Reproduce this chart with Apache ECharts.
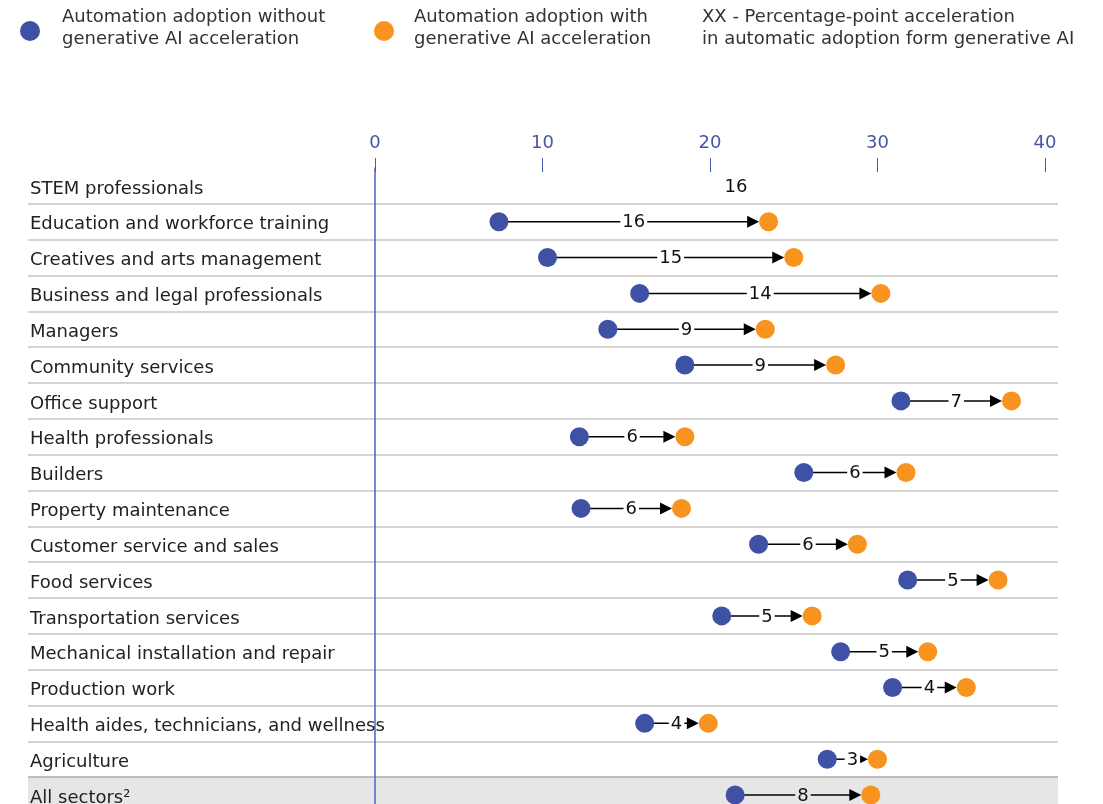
<!DOCTYPE html>
<html>
<head>
<meta charset="utf-8">
<script src="https://cdn.jsdelivr.net/npm/echarts@6/dist/echarts.min.js"></script>
<style>
  html, body { margin: 0; padding: 0; background: #fff; overflow: hidden; }
  #main { width: 1103px; height: 840px; }
</style>
</head>
<body>
<div id="main"></div>
<script>
var categories = [
    'STEM professionals',
    'Education and workforce training',
    'Creatives and arts management',
    'Business and legal professionals',
    'Managers',
    'Community services',
    'Office support',
    'Health professionals',
    'Builders',
    'Property maintenance',
    'Customer service and sales',
    'Food services',
    'Transportation services',
    'Mechanical installation and repair',
    'Production work',
    'Health aides, technicians, and wellness',
    'Agriculture',
    'All sectors\u00b2'
];
// automation adoption, %
var withoutGenAI = [13.5, 7.4, 10.3, 15.8, 13.9, 18.5, 31.4, 12.2, 25.6, 12.3, 22.9, 31.8, 20.7, 27.8, 30.9, 16.1, 27.0, 21.5];
var withGenAI = [29.6, 23.5, 25.0, 30.2, 23.3, 27.5, 38.0, 18.5, 31.7, 18.3, 28.8, 37.2, 26.1, 33.0, 35.3, 19.9, 30.0, 29.6];
var acceleration = [16, 16, 15, 14, 9, 9, 7, 6, 6, 6, 6, 5, 5, 5, 4, 4, 3, 8];
// the source shows only the label for the first row
var marksShown = [false, true, true, true, true, true, true, true, true, true, true, true, true, true, true, true, true, true];
var xTicks = [0, 10, 20, 30, 40];

var BLUE = '#3f51a5';
var ORANGE = '#f7931e';
var FONT = '"DejaVu Sans", sans-serif';

var rowTop = 168;
var rowH = 35.83;

var bandColors = categories.map(function (c, i) {
    return i === categories.length - 1 ? '#e6e6e6' : 'rgba(0,0,0,0)';
});
var lineColors = [];
for (var i = 0; i <= categories.length; i++) {
    lineColors.push(i === 0 ? 'rgba(0,0,0,0)' : (i === categories.length - 1 ? '#ababab' : '#c6c6c6'));
}

var arrowData = categories.map(function (c, i) {
    return [withoutGenAI[i], withGenAI[i], i, acceleration[i], marksShown[i] ? 1 : 0];
});
var blueData = [], orangeData = [];
categories.forEach(function (c, i) {
    if (marksShown[i]) {
        blueData.push([withoutGenAI[i], i]);
        orangeData.push([withGenAI[i], i]);
    }
});

var renderArrow = function (params, api) {
    var idx = api.value(2);
    var p0 = api.coord([api.value(0), idx]);
    var p1 = api.coord([api.value(1), idx]);
    var r = 9.5;
    var midX = (p0[0] + p1[0]) / 2;
    var y = p0[1];
    var children = [];
    var bg = idx === categories.length - 1 ? '#e6e6e6' : '#ffffff';
    if (api.value(4)) {
        var tip = p1[0] - r;
        var aw = 12, ah = 6;
        children.push({
            type: 'line',
            shape: { x1: p0[0], y1: y, x2: tip - aw + 1, y2: y },
            style: { stroke: '#000', lineWidth: 1.5 }
        });
        children.push({
            type: 'polygon',
            shape: { points: [[tip, y], [tip - aw, y - ah], [tip - aw, y + ah]] },
            style: { fill: '#000' }
        });
    }
    children.push({
        type: 'text',
        x: midX,
        y: y + 1,
        style: {
            text: String(api.value(3)),
            x: 0, y: 0,
            align: 'center',
            verticalAlign: 'middle',
            font: '18px ' + FONT,
            fill: '#111',
            backgroundColor: api.value(4) ? bg : 'transparent',
            padding: [1, 2]
        }
    });
    return { type: 'group', children: children };
};

var chart = echarts.init(document.getElementById('main'));
var option = {
    animation: false,
    textStyle: { fontFamily: FONT },
    grid: [
        { left: 28, right: 45, top: rowTop, height: rowH * categories.length },
        { left: 375, right: 58, top: rowTop, height: rowH * categories.length }
    ],
    xAxis: [{
        gridIndex: 0, type: 'value', min: 0, max: 1, show: false
    }, {
        gridIndex: 1,
        type: 'value',
        position: 'top',
        offset: -4,
        min: 0,
        max: 40,
        interval: 10,
        splitLine: { show: false },
        axisLine: { show: false },
        axisTick: { show: true, length: 14, lineStyle: { color: '#4a5aa8', width: 1 } },
        axisLabel: {
            color: '#4656a6', fontSize: 18, margin: 20, fontFamily: FONT,
            formatter: function (v) { return xTicks.indexOf(v) >= 0 ? String(v) : ''; }
        }
    }],
    yAxis: [{
        gridIndex: 0,
        type: 'category',
        inverse: true,
        data: categories,
        axisLine: { show: false },
        axisTick: { show: false },
        axisLabel: {
            inside: true, align: 'left', margin: 2, interval: 0,
            verticalAlign: 'top', lineHeight: 6,
            color: '#222', fontSize: 18, fontFamily: FONT
        },
        splitLine: { show: true, lineStyle: { color: lineColors, width: 1.5 } },
        splitArea: { show: true, areaStyle: { color: bandColors } }
    }, {
        gridIndex: 1,
        type: 'category',
        inverse: true,
        data: categories,
        axisLine: { show: true, lineStyle: { color: '#4f62c4', width: 1.5 } },
        axisTick: { show: false },
        axisLabel: { show: false },
        splitLine: { show: false }
    }],
    graphic: [
        { type: 'circle', shape: { cx: 30, cy: 31, r: 10 }, style: { fill: BLUE } },
        { type: 'text', left: 62, top: 6, style: { text: 'Automation adoption without\ngenerative AI acceleration', font: '18px ' + FONT, fill: '#333', lineHeight: 22 } },
        { type: 'circle', shape: { cx: 384, cy: 31, r: 10 }, style: { fill: ORANGE } },
        { type: 'text', left: 414, top: 6, style: { text: 'Automation adoption with\ngenerative AI acceleration', font: '18px ' + FONT, fill: '#333', lineHeight: 22 } },
        { type: 'text', left: 702, top: 6, style: { text: 'XX - Percentage-point acceleration\nin automatic adoption form generative AI', font: '18px ' + FONT, fill: '#333', lineHeight: 22 } }
    ],
    series: [{
        type: 'custom',
        xAxisIndex: 1,
        yAxisIndex: 1,
        renderItem: renderArrow,
        encode: { x: [0, 1], y: 2 },
        data: arrowData,
        z: 2
    }, {
        name: 'Automation adoption without generative AI acceleration',
        type: 'scatter',
        xAxisIndex: 1,
        yAxisIndex: 1,
        symbolSize: 19,
        itemStyle: { color: BLUE, opacity: 1 },
        data: blueData,
        z: 3
    }, {
        name: 'Automation adoption with generative AI acceleration',
        type: 'scatter',
        xAxisIndex: 1,
        yAxisIndex: 1,
        symbolSize: 19,
        itemStyle: { color: ORANGE, opacity: 1 },
        data: orangeData,
        z: 3
    }]
};
chart.setOption(option);
</script>
</body>
</html>
